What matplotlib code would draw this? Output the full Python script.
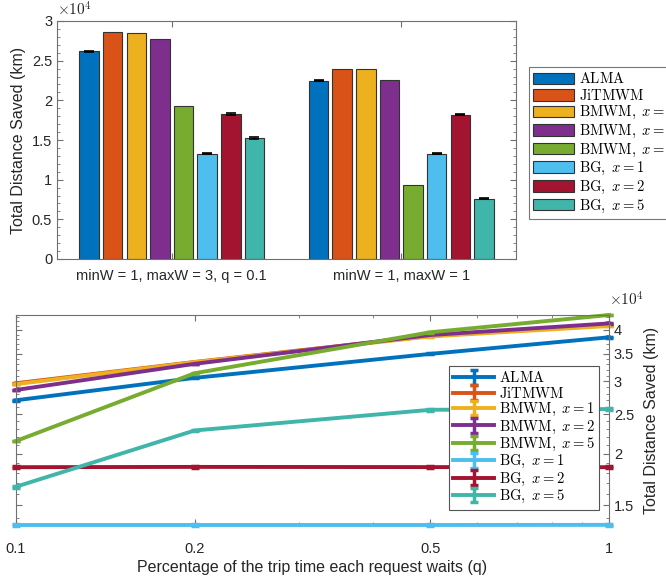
import numpy as np
import matplotlib
matplotlib.use("Agg")
import matplotlib.pyplot as plt
from matplotlib.ticker import FixedLocator, NullFormatter

plt.rcParams["font.family"] = ["Liberation Sans", "DejaVu Sans"]
plt.rcParams["mathtext.fontset"] = "cm"

# ---- data ----
labels = [r"$\mathrm{ALMA}$", r"$\mathrm{JiTMWM}$",
          r"$\mathrm{BMWM,}\ x = 1$", r"$\mathrm{BMWM,}\ x = 2$", r"$\mathrm{BMWM,}\ x = 5$",
          r"$\mathrm{BG,}\ x = 1$", r"$\mathrm{BG,}\ x = 2$", r"$\mathrm{BG,}\ x = 5$"]
colors = ["#0072BD", "#D95319", "#EDB120", "#7E2F8E", "#77AC30", "#4DBEEE", "#A2142F", "#40B5AA"]

groups = ["minW = 1, maxW = 3, q = 0.1", "minW = 1, maxW = 1"]
# km, one row per method: [group1, group2]
bar_vals = [
    [26200, 22450],
    [28600, 24000],
    [28450, 23900],
    [27700, 22600],
    [19250, 9300],
    [13250, 13250],
    [18300, 18200],
    [15250, 7600],
]
bar_err = [
    [70, 60],
    [0, 0],
    [0, 0],
    [0, 0],
    [0, 0],
    [70, 60],
    [90, 70],
    [70, 50],
]

q = [0.1, 0.2, 0.5, 1.0]
line_vals = [
    [27000, 30600, 35000, 38400],   # ALMA
    [29700, 33450, 38700, 41100],   # JiTMWM
    [29550, 33400, 38600, 40900],   # BMWM x=1
    [28600, 33100, 38900, 41500],   # BMWM x=2
    [21500, 31400, 39500, 43500],   # BMWM x=5
    [13440, 13440, 13440, 13450],   # BG x=1
    [18570, 18600, 18580, 18570],   # BG x=2
    [16650, 22800, 25600, 25700],   # BG x=5
]
line_err = [
    [80, 80, 80, 80],
    [60, 60, 60, 60],
    [60, 60, 60, 60],
    [60, 60, 60, 60],
    [60, 60, 60, 60],
    [80, 80, 80, 80],
    [120, 120, 120, 120],
    [110, 110, 110, 110],
]

text_c = "#262626"
spine_c = "#707070"

fig = plt.figure(figsize=(6.66, 5.82), dpi=100)

# ---- top: grouped bars ----
ax = fig.add_axes([57 / 666, 1 - 259 / 582, 459 / 666, 238 / 582])
n = len(labels)
step = 0.103
width = 0.085
xc = np.array([1, 2])
for i in range(n):
    vals = np.array(bar_vals[i]) / 1e4
    errs = np.array(bar_err[i]) / 1e4
    xs = xc + (i - (n - 1) / 2) * step
    ax.bar(xs, vals, width, color=colors[i], edgecolor="#333333", linewidth=0.8,
           label=labels[i], zorder=2)
    has = errs > 0
    if has.any():
        ax.errorbar(xs[has], vals[has], yerr=errs[has], fmt="none", ecolor="black",
                    capsize=3.5, elinewidth=1, capthick=1.2, zorder=3)
ax.set_xlim(0.5, 2.5)
ax.set_ylim(0, 3)
ax.set_xticks(xc)
ax.set_xticklabels(groups)
ax.set_yticks([0, 0.5, 1, 1.5, 2, 2.5, 3])
ax.set_yticklabels(["0", "0.5", "1", "1.5", "2", "2.5", "3"])
ax.set_yticks(np.arange(1, 30) / 10, minor=True)
ax.tick_params(which="both", direction="in", top=True, right=True, colors=spine_c,
               labelcolor=text_c, labelsize=10.5)
ax.tick_params(axis="x", length=0, pad=7)
ax.tick_params(which="major", length=4)
ax.tick_params(which="minor", length=2.5)
ax.set_ylabel("Total Distance Saved (km)", fontsize=11.5, color=text_c, labelpad=4)
for s in ax.spines.values():
    s.set_color(spine_c)
ax.text(0.0, 1.01, r"$\times 10^4$", transform=ax.transAxes, fontsize=11,
        color=text_c, ha="left", va="bottom", family="DejaVu Sans")
leg = fig.legend(loc="upper left", bbox_to_anchor=(529 / 666, 1 - 67 / 582),
                 fontsize=10.5, frameon=True, fancybox=False, edgecolor="#555555",
                 handlelength=2.8, handleheight=0.85, labelspacing=0.1,
                 handletextpad=0.3, borderpad=0.3, borderaxespad=0)
leg.get_frame().set_linewidth(0.8)

# ---- bottom: lines vs q ----
ax2 = fig.add_axes([16 / 666, 1 - 525 / 582, 593 / 666, 210 / 582])
for i in range(n):
    vals = np.array(line_vals[i]) / 1e4
    errs = np.array(line_err[i]) / 1e4
    eb = ax2.errorbar(q, vals, yerr=errs, color=colors[i], linewidth=2.8, capsize=3,
                      capthick=2.5, elinewidth=2.5, label=labels[i], zorder=2 + i * 0.1)
    for art in eb.lines[1] + tuple(eb.lines[2]) + (eb.lines[0],):
        art.set_clip_on(False)
ax2.set_xscale("log")
ax2.set_yscale("log")
allv = np.array(line_vals) / 1e4
ax2.set_xlim(0.1, 1)
ax2.set_ylim(allv.min(), allv.max())
ax2.xaxis.set_major_locator(FixedLocator([0.1, 0.2, 0.5, 1]))
ax2.xaxis.set_minor_locator(FixedLocator([0.3, 0.4, 0.6, 0.7, 0.8, 0.9]))
ax2.xaxis.set_minor_formatter(NullFormatter())
ax2.set_xticklabels(["0.1", "0.2", "0.5", "1"])
yt = [1.5, 2, 2.5, 3, 3.5, 4]
ax2.yaxis.set_major_locator(FixedLocator(yt))
ax2.yaxis.set_minor_locator(FixedLocator([1.4, 1.6, 1.7, 1.8, 1.9, 2.1, 2.2, 2.3, 2.4,
                                          2.6, 2.7, 2.8, 2.9, 3.1, 3.2, 3.3, 3.4,
                                          3.6, 3.7, 3.8, 3.9, 4.1, 4.2, 4.3]))
ax2.yaxis.set_minor_formatter(NullFormatter())
ax2.set_yticklabels(["1.5", "2", "2.5", "3", "3.5", "4"])
ax2.tick_params(which="both", direction="in", top=True, right=True, left=True,
                labelleft=False, labelright=True, colors=spine_c,
                labelcolor=text_c, labelsize=10.5)
ax2.tick_params(which="major", length=4)
ax2.tick_params(which="minor", length=2.5)
ax2.tick_params(axis="x", pad=12)
ax2.yaxis.set_label_position("right")
ax2.set_ylabel("Total Distance Saved (km)", fontsize=11.5, color=text_c, labelpad=7)
ax2.set_xlabel("Percentage of the trip time each request waits (q)", fontsize=11.5,
               color=text_c, labelpad=3)
for s in ax2.spines.values():
    s.set_color(spine_c)
ax2.text(1.0, 1.03, r"$\times 10^4$", transform=ax2.transAxes, fontsize=11,
         color=text_c, ha="left", va="bottom", family="DejaVu Sans")
leg2 = fig.legend(handles=ax2.get_legend_handles_labels()[0],
                  labels=labels, loc="upper left",
                  bbox_to_anchor=(449 / 666, 1 - 366 / 582),
                  fontsize=10.5, frameon=True, fancybox=False, edgecolor="#555555",
                  handlelength=2.8, labelspacing=0.02, handletextpad=0.3,
                  borderpad=0.3, borderaxespad=0, framealpha=1)
leg2.get_frame().set_linewidth(0.8)
leg2.set_zorder(10)

fig.savefig("out.png", dpi=100)
